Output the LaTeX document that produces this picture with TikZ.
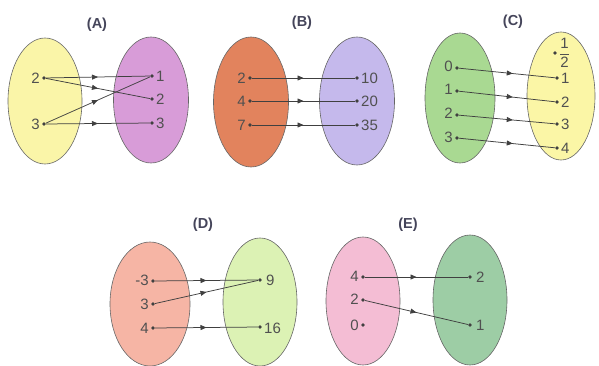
\documentclass[tikz,border=0pt]{standalone}
\usepackage{fontspec}
\setmainfont{Liberation Sans}
\usetikzlibrary{arrows.meta,decorations.markings}
\definecolor{txt}{HTML}{505050}
\definecolor{ttl}{HTML}{45455A}
\definecolor{edge}{HTML}{666666}
\definecolor{lnk}{HTML}{404040}
\definecolor{cAL}{HTML}{FAF5A8}
\definecolor{cAR}{HTML}{D89CD8}
\definecolor{cBL}{HTML}{E2835D}
\definecolor{cBR}{HTML}{C5B9EC}
\definecolor{cCL}{HTML}{A9D992}
\definecolor{cCR}{HTML}{FBF6A6}
\definecolor{cDL}{HTML}{F6B5A5}
\definecolor{cDR}{HTML}{DCF2B4}
\definecolor{cEL}{HTML}{F4BDD4}
\definecolor{cER}{HTML}{9DCDA5}
\tikzset{
  setshape/.style={draw=edge, line width=0.6pt},
  dotnode/.style={circle, fill=lnk, inner sep=0pt, minimum size=3.8pt},
  lab/.style={text=txt, font=\fontsize{15}{16}\selectfont, inner sep=1pt},
  ttlnode/.style={text=ttl, font=\fontsize{14.5}{16}\selectfont\bfseries},
  link/.style={draw=lnk, line width=0.75pt, decoration={markings, mark=at position #1 with {\arrow{Triangle[length=6pt,width=5pt]}}}, postaction={decorate}},
  link/.default=0.5
}
\begin{document}
\begin{tikzpicture}[x=1pt,y=-1pt]
\useasboundingbox (0,0) rectangle (599,366);
% ---------- (A)
\node[ttlnode] (tA) at (97,25) {(A)};
\fill[cAL] (45,101) ellipse [x radius=37, y radius=63];
\draw[setshape] (45,101) ellipse [x radius=37, y radius=63];
\fill[cAR] (151,100) ellipse [x radius=37.5, y radius=63];
\draw[setshape] (151,100) ellipse [x radius=37.5, y radius=63];
\node[dotnode] (a2) at (44,78) {};
\node[dotnode] (a3) at (44,124) {};
\node[dotnode] (b1) at (152,76) {};
\node[dotnode] (b2) at (152,99) {};
\node[dotnode] (b3) at (152,123) {};
\node[lab, anchor=east] (la2) at (41,78) {2};
\node[lab, anchor=east] (la3) at (41,124) {3};
\node[lab, anchor=west] (lb1) at (155,76) {1};
\node[lab, anchor=west] (lb2) at (155,99) {2};
\node[lab, anchor=west] (lb3) at (155,123) {3};
\draw[link] (a2) -- (b1);
\draw[link] (a2) -- (b2);
\draw[link] (a3) -- (b1);
\draw[link] (a3) -- (b3);
% ---------- (B)
\node[ttlnode] (tB) at (302,23) {(B)};
\fill[cBL] (251,102) ellipse [x radius=37.5, y radius=65];
\draw[setshape] (251,102) ellipse [x radius=37.5, y radius=65];
\fill[cBR] (357,101) ellipse [x radius=37.5, y radius=64];
\draw[setshape] (357,101) ellipse [x radius=37.5, y radius=64];
\node[dotnode] (c2) at (250,78) {};
\node[dotnode] (c4) at (250,101) {};
\node[dotnode] (c7) at (250,125) {};
\node[dotnode] (d10) at (357,78) {};
\node[dotnode] (d20) at (357,101) {};
\node[dotnode] (d35) at (357,125) {};
\node[lab, anchor=east] (lc2) at (247,78) {2};
\node[lab, anchor=east] (lc4) at (247,101) {4};
\node[lab, anchor=east] (lc7) at (247,125) {7};
\node[lab, anchor=west] (ld10) at (360,78) {10};
\node[lab, anchor=west] (ld20) at (360,101) {20};
\node[lab, anchor=west] (ld35) at (360,125) {35};
\draw[link] (c2) -- (d10);
\draw[link] (c4) -- (d20);
\draw[link] (c7) -- (d35);
% ---------- (C)
\node[ttlnode] (tC) at (513,22) {(C)};
\fill[cCL] (460,98) ellipse [x radius=35, y radius=65];
\draw[setshape] (460,98) ellipse [x radius=35, y radius=65];
\fill[cCR] (561,96) ellipse [x radius=34, y radius=64];
\draw[setshape] (561,96) ellipse [x radius=34, y radius=64];
\node[dotnode] (e0) at (457,68) {};
\node[dotnode] (e1) at (457,91) {};
\node[dotnode] (e2) at (457,115) {};
\node[dotnode] (e3) at (457,138) {};
\node[dotnode] (fh) at (555,53) {};
\node[dotnode] (f1) at (557,78) {};
\node[dotnode] (f2) at (557,102) {};
\node[dotnode] (f3) at (557,124) {};
\node[dotnode] (f4) at (557,148) {};
\node[lab, anchor=east] (le0) at (454,66) {0};
\node[lab, anchor=east] (le1) at (454,89) {1};
\node[lab, anchor=east] (le2) at (454,113) {2};
\node[lab, anchor=east] (le3) at (454,137) {3};
\node[lab, anchor=west, inner sep=0pt] (lfh) at (559,53) {$\displaystyle\frac{\hbox{1}}{\hbox{2}}$};
\node[lab, anchor=west] (lf1) at (560,78) {1};
\node[lab, anchor=west] (lf2) at (560,102) {2};
\node[lab, anchor=west] (lf3) at (560,124) {3};
\node[lab, anchor=west] (lf4) at (560,148) {4};
\draw[link=0.56] (e0) -- (f1);
\draw[link=0.56] (e1) -- (f2);
\draw[link=0.56] (e2) -- (f3);
\draw[link=0.56] (e3) -- (f4);
% ---------- (D)
\node[ttlnode] (tD) at (203,225) {(D)};
\fill[cDL] (150,304) ellipse [x radius=40, y radius=62];
\draw[setshape] (150,304) ellipse [x radius=40, y radius=62];
\fill[cDR] (260,302) ellipse [x radius=37, y radius=64];
\draw[setshape] (260,302) ellipse [x radius=37, y radius=64];
\node[dotnode] (g1) at (153,281) {};
\node[dotnode] (g2) at (153,304) {};
\node[dotnode] (g3) at (153,328) {};
\node[dotnode] (h9) at (260,280) {};
\node[dotnode] (h16) at (260,327) {};
\node[lab, anchor=east] (lg1) at (150,280) {-3};
\node[lab, anchor=east] (lg2) at (150,304) {3};
\node[lab, anchor=east] (lg3) at (150,328) {4};
\node[lab, anchor=west] (lh9) at (265,280) {9};
\node[lab, anchor=west] (lh16) at (263,328) {16};
\draw[link] (g1) -- (h9);
\draw[link] (g2) -- (h9);
\draw[link] (g3) -- (h16);
% ---------- (E)
\node[ttlnode] (tE) at (408,225) {(E)};
\fill[cEL] (363,301) ellipse [x radius=37, y radius=64];
\draw[setshape] (363,301) ellipse [x radius=37, y radius=64];
\fill[cER] (470,300) ellipse [x radius=37, y radius=65];
\draw[setshape] (470,300) ellipse [x radius=37, y radius=65];
\node[dotnode] (i4) at (363,277) {};
\node[dotnode] (i2) at (363,300) {};
\node[dotnode] (i0) at (363,325) {};
\node[dotnode] (j2) at (470,277) {};
\node[dotnode] (j1) at (470,325) {};
\node[lab, anchor=east] (li4) at (360,276) {4};
\node[lab, anchor=east] (li2) at (360,299) {2};
\node[lab, anchor=east] (li0) at (360,325) {0};
\node[lab, anchor=west] (lj2) at (475,277) {2};
\node[lab, anchor=west] (lj1) at (475,325) {1};
\draw[link] (i4) -- (j2);
\draw[link] (i2) -- (j1);
\end{tikzpicture}
\end{document}
